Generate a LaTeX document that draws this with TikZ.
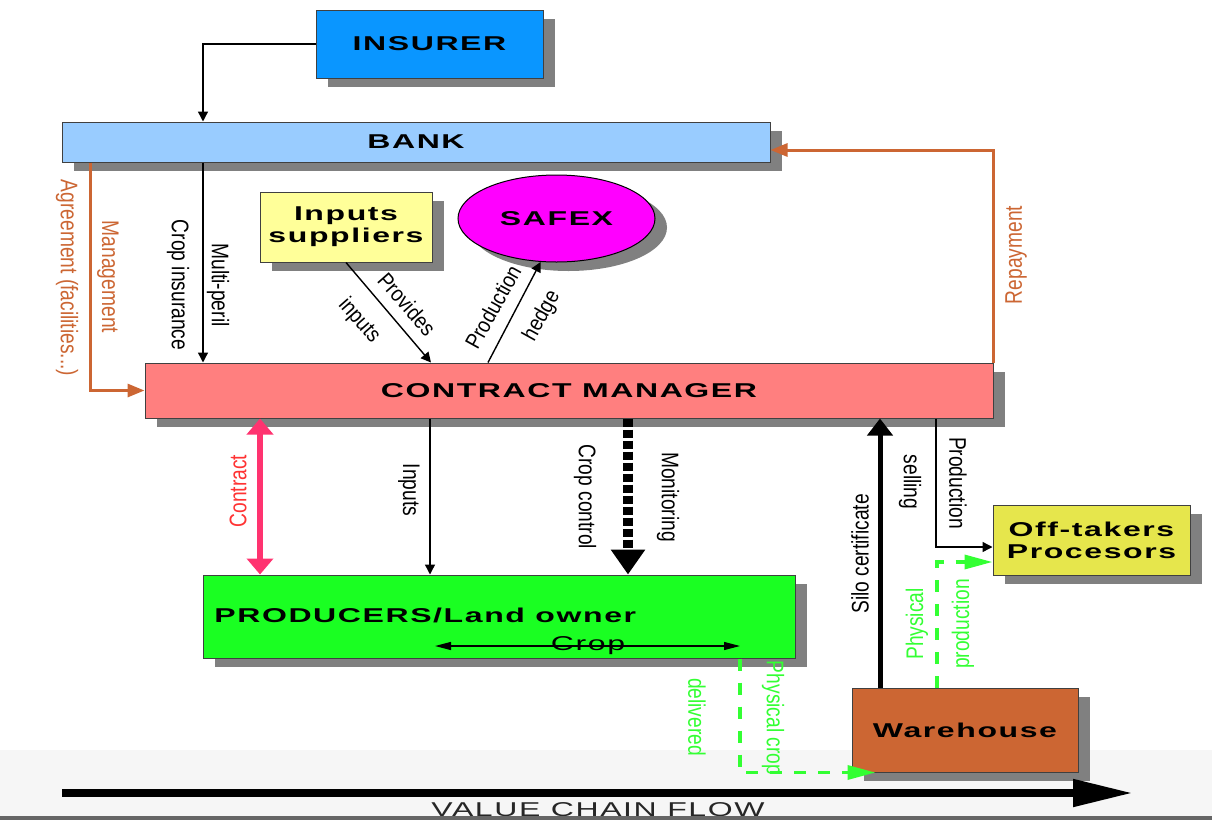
\documentclass[tikz,border=0pt]{standalone}
\usepackage{fontspec}
\setmainfont{Liberation Sans}
\newfontfamily\lsp[LetterSpace=5]{Liberation Sans}
\usepackage{graphicx}
\usetikzlibrary{arrows.meta,shadows,shapes.geometric}
\definecolor{insblue}{HTML}{0A96FF}
\definecolor{bankblue}{HTML}{99CCFF}
\definecolor{supyellow}{HTML}{FFFF99}
\definecolor{safmag}{HTML}{FF00FF}
\definecolor{cmred}{HTML}{FF7F7F}
\definecolor{prodgreen}{HTML}{1AFF22}
\definecolor{offyellow}{HTML}{E6E64C}
\definecolor{whbrown}{HTML}{CC6633}
\definecolor{orline}{HTML}{CC6633}
\definecolor{pinkline}{HTML}{FF3370}
\definecolor{redtxt}{HTML}{FF3333}
\definecolor{grline}{HTML}{33FF33}
\definecolor{shgray}{HTML}{808080}
\definecolor{bandgray}{HTML}{F6F6F6}
\newcommand{\hx}[1]{\scalebox{1.6}[1]{#1}}
\newcommand{\vx}[1]{\scalebox{1}[1.25]{#1}}
\newcommand{\vy}[1]{\scalebox{1}[1.15]{#1}}
\begin{document}
\begin{tikzpicture}[x=0.5pt,y=-0.5pt,
  box/.style={draw=black!75, line width=0.5pt, rectangle, inner sep=0pt,
    general shadow={fill=shgray, shadow xshift=6pt, shadow yshift=-4.5pt},
    font=\lsp\bfseries\fontsize{10}{11}\selectfont, align=center},
  lab/.style={inner sep=0pt, font=\fontsize{9.6}{11}\selectfont},
  thinarr/.style={line width=0.7pt, -{Triangle[length=5pt,width=5pt]}},
  orarr/.style={draw=orline, line width=1.5pt, -{Triangle[length=8.5pt,width=6.5pt]}},
  contractarr/.style={draw=pinkline, line width=3pt, {Triangle[length=8pt,width=13pt]}-{Triangle[length=8pt,width=13pt]}},
  monarr/.style={line width=5pt, dash pattern=on 4pt off 1.5pt, -{Triangle[length=12.5pt,width=16.5pt]}},
  siloarr/.style={line width=2.5pt, -{Triangle[length=8.5pt,width=12.5pt]}},
  grarr/.style={draw=grline, line width=1.7pt, dash pattern=on 6pt off 6pt, -{Triangle[length=14pt,width=7pt,fill=grline]}},
  croparr/.style={line width=0.6pt, {Triangle[length=8pt,width=4pt]}-{Triangle[length=8pt,width=4pt]}},
  vcfarr/.style={line width=4pt, -{Triangle[length=30pt,width=13pt]}}
]
\useasboundingbox (0,0) rectangle (1212,820);
\fill[white] (0,0) rectangle (1212,820);
\fill[bandgray] (0,750) rectangle (1212,816);

% coordinates for vertical connector positions
\coordinate (xA) at (203,0);
\coordinate (xM) at (90,0);
\coordinate (xP) at (431,0);
\coordinate (xH) at (488,0);
\coordinate (xC) at (260,0);
\coordinate (xI) at (430,0);
\coordinate (xMo) at (628,0);
\coordinate (xS) at (880,0);
\coordinate (xPS) at (936,0);
\coordinate (xPP) at (937,0);
\coordinate (xPC) at (740,0);

% boxes
\node[box, fill=insblue, minimum width=113.5pt, minimum height=34pt] (ins) at (429.5,44) {\hx{INSURER}};
\node[box, fill=bankblue, minimum width=354pt, minimum height=20pt] (bank) at (416,142) {\hx{BANK}};
\node[box, fill=supyellow, minimum width=86pt, minimum height=35pt] (sup) at (346,227) {\hx{Inputs}\\\hx{suppliers}};
\node[box, ellipse, fill=safmag, draw=black, minimum width=98.5pt, minimum height=43.5pt] (saf) at (556.5,218.5) {\hx{SAFEX}};
\node[box, fill=cmred, minimum width=424pt, minimum height=27.5pt] (cm) at (569,390.5) {\hx{CONTRACT MANAGER}};
\node[box, fill=prodgreen, minimum width=296pt, minimum height=41.5pt] (prod) at (499,616.5) {};
\node[anchor=west, inner sep=0pt, font=\lsp\bfseries\fontsize{10}{11}\selectfont] (prodlab) at (214,615) {\hx{PRODUCERS/Land owner}};
\node[box, fill=offyellow, minimum width=98.5pt, minimum height=35pt] (off) at (1091.5,540) {\hx{Off-takers}\\\hx{Procesors}};
\node[box, fill=whbrown, minimum width=113pt, minimum height=42pt] (wh) at (965,730) {\hx{Warehouse}};

% connectors
\draw[thinarr] (ins.west) -| (bank.north -| xA);
\draw[thinarr] (bank.south -| xA) -- (cm.north -| xA);
\draw[orarr] (bank.south -| xM) |- (cm.west);
\draw[orarr] (cm.north east) |- ([yshift=-4pt]bank.east);
\draw[thinarr] (sup.south) -- (cm.north -| xP);
\draw[thinarr] (cm.north -| xH) -- (saf.-110);
\draw[contractarr] (cm.south -| xC) -- (prod.north -| xC);
\draw[thinarr] (cm.south -| xI) -- (prod.north -| xI);
\draw[monarr] (cm.south -| xMo) -- (prod.north -| xMo);
\draw[siloarr] (wh.north -| xS) -- (cm.south -| xS);
\draw[thinarr] (cm.south -| xPS) |- ([yshift=-3.5pt]off.west);
\draw[grarr] (wh.north -| xPP) |- ([yshift=-11pt]off.west);
\draw[grarr] (prod.south -| xPC) |- ([xshift=12pt]wh.south west);

% crop arrow inside producers
\coordinate (cropL) at (435,646);
\coordinate (cropR) at (740,646);
\draw[croparr] (cropL) -- (cropR);
\node[inner sep=0pt, font=\lsp\fontsize{10}{11}\selectfont] (croplab) at (588,646) {\hx{Crop}};

% value chain flow
\coordinate (vL) at (62,793);
\coordinate (vR) at (1133,793);
\draw[vcfarr] (vL) -- (vR);
\node[anchor=base, inner sep=0pt, font=\lsp\fontsize{10}{11}\selectfont, text=black!85] (vcft) at (598,816) {\hx{VALUE CHAIN FLOW}};
\fill[black!60] (0,816) rectangle (1212,820);

% labels
\node[lab, rotate=-90] (l1) at (218,285) {\vx{Multi-peril}};
\node[lab, rotate=-90] (l2) at (178,285) {\vx{Crop insurance}};
\node[lab, text=orline, rotate=-90] (l3) at (108,277) {\vx{Management}};
\node[lab, text=orline, rotate=-90] (l4) at (67,278) {\vx{Agreement (facilities...)}};
\node[lab, text=orline, rotate=90] (l5) at (1016,255) {\vx{Repayment}};
\node[lab, text=redtxt, rotate=90] (l6) at (238,491) {\vx{Contract}};
\node[lab, rotate=-90] (l7) at (409,490) {\vx{Inputs}};
\node[lab, rotate=-90] (l8) at (585,497) {\vx{Crop control}};
\node[lab, rotate=-90] (l9) at (668,497) {\vx{Monitoring}};
\node[lab, rotate=90] (l10) at (860,554) {\vx{Silo certificate}};
\node[lab, rotate=-90] (l11) at (958,483) {\vx{Production}};
\node[lab, rotate=-90] (l12) at (910,482) {\vx{selling}};
\node[lab, text=grline, rotate=90] (l13) at (917,624) {\vx{Physical}};
\node[lab, text=grline, rotate=90] (l14) at (963,624) {\vx{production}};
\node[lab, text=grline, rotate=-90] (l15) at (697,717) {\vx{delivered}};
\node[lab, text=grline, rotate=-90] (l16) at (773,718) {\vx{Physical crop}};
\node[lab, rotate=-48.7] (l17) at (407,304) {\vy{Provides}};
\node[lab, rotate=-48.7] (l18) at (359,321) {\vy{inputs}};
\node[lab, rotate=61] (l19) at (493,307) {\vy{Production}};
\node[lab, rotate=61] (l20) at (542,316) {\vy{hedge}};
\end{tikzpicture}
\end{document}
